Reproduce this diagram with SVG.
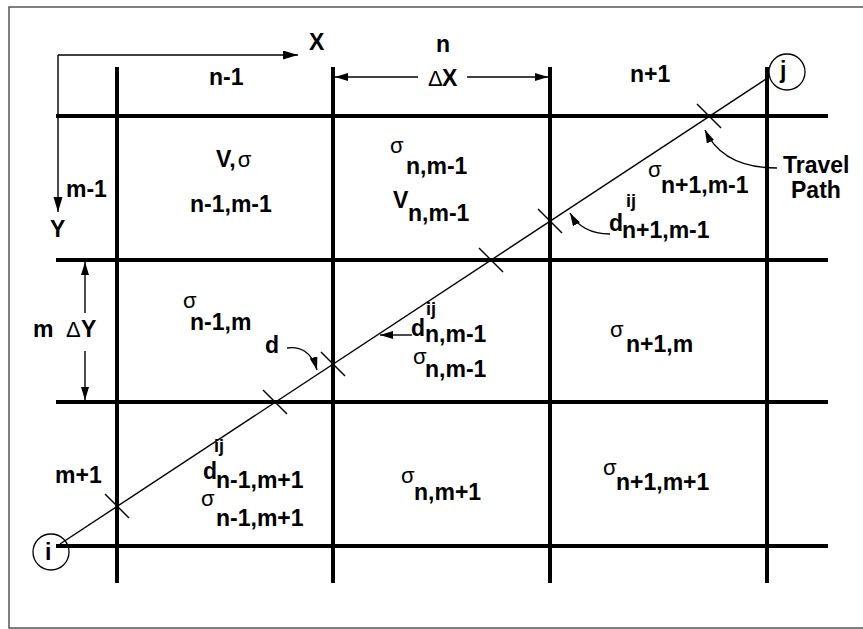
<svg xmlns="http://www.w3.org/2000/svg" width="863" height="629" viewBox="0 0 863 629">
<style>
.t{font-family:"Liberation Sans",Arial,sans-serif;font-weight:bold;font-size:23px;fill:#000}
.s{font-family:"Liberation Sans",Arial,sans-serif;font-weight:bold;font-size:18px;fill:#000}
.g{font-family:"Liberation Sans",Arial,sans-serif;font-weight:normal;font-size:22px;fill:#000}
.grid{stroke:#000;stroke-width:4;fill:none}
.thin{stroke:#000;stroke-width:1.4;fill:none}
.tick{stroke:#000;stroke-width:1.4;fill:none}
</style>
<defs>
<marker id="ah" markerUnits="userSpaceOnUse" markerWidth="16" markerHeight="10" refX="15" refY="4.5" orient="auto">
<path d="M0,0 L15,4.5 L0,9 z" fill="#000"/>
</marker>
<marker id="ahs" markerUnits="userSpaceOnUse" markerWidth="14" markerHeight="10" refX="13" refY="4" orient="auto">
<path d="M0,0 L13,4 L0,8 z" fill="#000"/>
</marker>
</defs>
<rect x="9" y="7" width="862" height="621" fill="#fff" stroke="#555" stroke-width="1.5"/>
<g id="grid">
<line class="grid" x1="56" y1="116" x2="828" y2="116"/>
<line class="grid" x1="56" y1="260" x2="828" y2="260"/>
<line class="grid" x1="56" y1="402" x2="828" y2="402"/>
<line class="grid" x1="56" y1="546" x2="828" y2="546"/>
<line class="grid" x1="117" y1="67" x2="117" y2="583"/>
<line class="grid" x1="333" y1="67" x2="333" y2="583"/>
<line class="grid" x1="550" y1="67" x2="550" y2="583"/>
<line class="grid" x1="767" y1="67" x2="767" y2="583"/>
</g>
<g id="node-i">
<circle cx="51" cy="552" r="18" fill="none" stroke="#000" stroke-width="1.3"/>
<text class="t" x="45" y="560">i</text>
</g>
<g id="node-j">
<circle cx="787" cy="72" r="18" fill="none" stroke="#000" stroke-width="1.3"/>
<text class="t" x="780" y="78">j</text>
</g>
<g id="travel-path">
<line class="thin" x1="60" y1="544" x2="769" y2="77"/>
<g class="tick">
<line x1="105" y1="494" x2="129" y2="518"/>
<line x1="263" y1="390" x2="287" y2="414"/>
<line x1="321" y1="352" x2="345" y2="376"/>
<line x1="479" y1="248" x2="503" y2="272"/>
<line x1="538" y1="209" x2="562" y2="233"/>
<line x1="697" y1="104" x2="721" y2="128"/>
</g>
</g>
<g id="connectors">
<path class="thin" d="M58,55 H298" marker-end="url(#ah)"/>
<path class="thin" d="M58,55 V212" marker-end="url(#ah)"/>
<path class="thin" d="M418,77 H335" marker-end="url(#ahs)"/>
<path class="thin" d="M467,77 H548" marker-end="url(#ahs)"/>
<path class="thin" d="M85,313 V262" marker-end="url(#ahs)"/>
<path class="thin" d="M85,351 V400" marker-end="url(#ahs)"/>
<path class="thin" d="M287,348 C300,346 312,352 317,370" marker-end="url(#ahs)"/>
<path class="thin" d="M412,335 H380" marker-end="url(#ahs)"/>
<path class="thin" d="M610,234 C592,234 578,227 570,213" marker-end="url(#ahs)"/>
<path class="thin" d="M777,168 C745,168 718,158 705,130" marker-end="url(#ahs)"/>
</g>
<g id="labels">
<text class="t" x="309" y="50">X</text>
<text class="t" x="50" y="237">Y</text>
<text class="t" x="209" y="85">n-1</text>
<text class="t" x="436" y="52">n</text>
<text class="g" x="428" y="86">Δ</text>
<text class="t" x="442" y="86">X</text>
<text class="t" x="630" y="82">n+1</text>
<text class="t" x="66" y="197">m-1</text>
<text class="t" x="33" y="337">m</text>
<text class="g" x="66" y="337">Δ</text>
<text class="t" x="81" y="337">Y</text>
<text class="t" x="55" y="483">m+1</text>
<text class="t" x="216" y="167">V,<tspan class="g" dx="2">σ</tspan></text>
<text class="t" x="190" y="212">n-1,m-1</text>
<text class="g" x="390" y="153">σ</text>
<text class="t" x="406" y="174">n,m-1</text>
<text class="t" x="393" y="208">V</text>
<text class="t" x="408" y="221">n,m-1</text>
<text class="g" x="648" y="177">σ</text>
<text class="t" x="661" y="193">n+1,m-1</text>
<text class="s" x="626" y="207">ij</text>
<text class="t" x="609" y="231">d</text>
<text class="t" x="622" y="238">n+1,m-1</text>
<text class="t" x="783" y="173">Travel</text>
<text class="t" x="791" y="198">Path</text>
<text class="g" x="183" y="308">σ</text>
<text class="t" x="190" y="330">n-1,m</text>
<text class="t" x="265" y="353">d</text>
<text class="s" x="426" y="315">ij</text>
<text class="t" x="411" y="336">d</text>
<text class="t" x="425" y="342">n,m-1</text>
<text class="g" x="413" y="364">σ</text>
<text class="t" x="425" y="377">n,m-1</text>
<text class="g" x="610" y="337">σ</text>
<text class="t" x="626" y="352">n+1,m</text>
<text class="s" x="214" y="452">ij</text>
<text class="t" x="203" y="479">d</text>
<text class="t" x="216" y="488">n-1,m+1</text>
<text class="g" x="201" y="506">σ</text>
<text class="t" x="216" y="526">n-1,m+1</text>
<text class="g" x="401" y="483">σ</text>
<text class="t" x="414" y="500">n,m+1</text>
<text class="g" x="603" y="475">σ</text>
<text class="t" x="616" y="490">n+1,m+1</text>
</g>
</svg>
